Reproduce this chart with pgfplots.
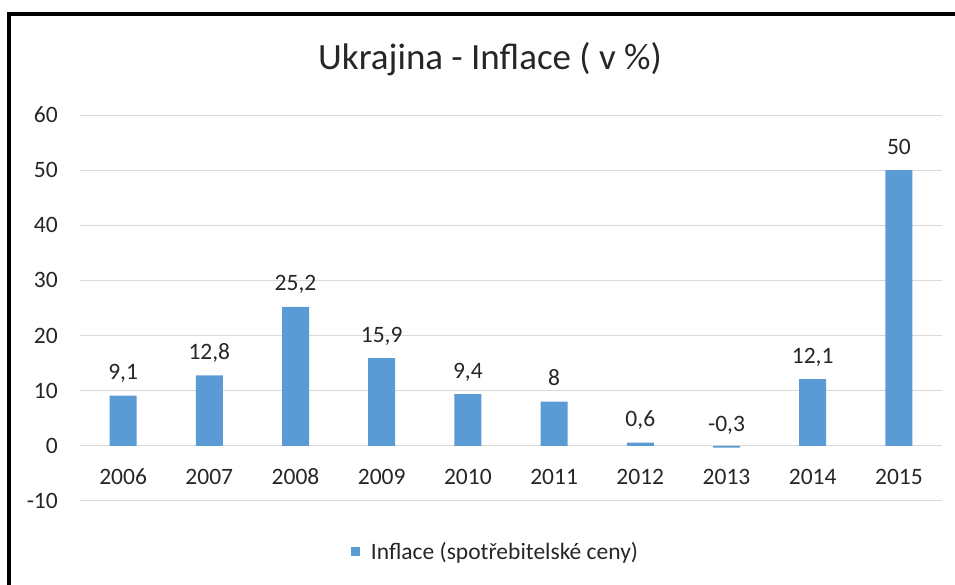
\documentclass[border=0pt]{standalone}
\usepackage{pgfplots}
\pgfplotsset{compat=1.18}
\usepackage{fontspec}
\setmainfont{Carlito}
\definecolor{barblue}{HTML}{5B9BD5}
\definecolor{txt}{HTML}{262626}
\definecolor{gridc}{HTML}{D9D9D9}
\begin{document}
\begin{tikzpicture}
\path[use as bounding box] (0,0) rectangle (955bp,585bp);
\draw[line width=4bp] (9bp,0) -- (9bp,570.5bp) -- (955bp,570.5bp);
\node[anchor=base, font=\fontsize{37bp}{44bp}\selectfont, text=txt, inner sep=0pt] at (490bp,515bp) {Ukrajina - Inflace ( v \%)};
\begin{axis}[
  at={(80bp,84bp)}, anchor=south west, scale only axis,
  width=862bp, height=386bp,
  ymin=-10, ymax=60, ytick={-10,0,...,60},
  xmin=-0.5, xmax=9.5, xtick={0,...,9},
  xticklabels={2006,2007,2008,2009,2010,2011,2012,2013,2014,2015},
  axis line style={draw=none}, major tick length=0pt,
  ymajorgrids, grid style={gridc, line width=1bp},
  ybar, bar width=27bp,
  /pgf/number format/assume math mode=true,
  /pgf/number format/use comma,
  tick label style={font=\fontsize{23.5bp}{28bp}\selectfont, text=txt},
  xticklabel style={anchor=base, inner sep=0pt, yshift=16bp},
  yticklabel style={anchor=east, inner sep=0pt, xshift=-22bp},
  nodes near coords,
  every node near coord/.append style={font=\fontsize{23.5bp}{28bp}\selectfont, text=txt, anchor=base, inner sep=0pt, yshift=16bp},
  legend style={at={(0.482,-0.13)}, anchor=center, draw=none, fill=none, font=\fontsize{23.5bp}{28bp}\selectfont, text=txt, inner sep=0pt,
    /tikz/every odd column/.append style={column sep=9bp}},
  legend image code/.code={\fill[barblue] (0bp,-4.5bp) rectangle (9bp,4.5bp);},
]
\addplot[fill=barblue, draw=none] coordinates {(0,9.1) (1,12.8) (2,25.2) (3,15.9) (4,9.4) (5,8) (6,0.6) (7,-0.3) (8,12.1) (9,50)};
\addlegendentry{Inflace (spotřebitelské ceny)}
\end{axis}
\end{tikzpicture}
\end{document}
